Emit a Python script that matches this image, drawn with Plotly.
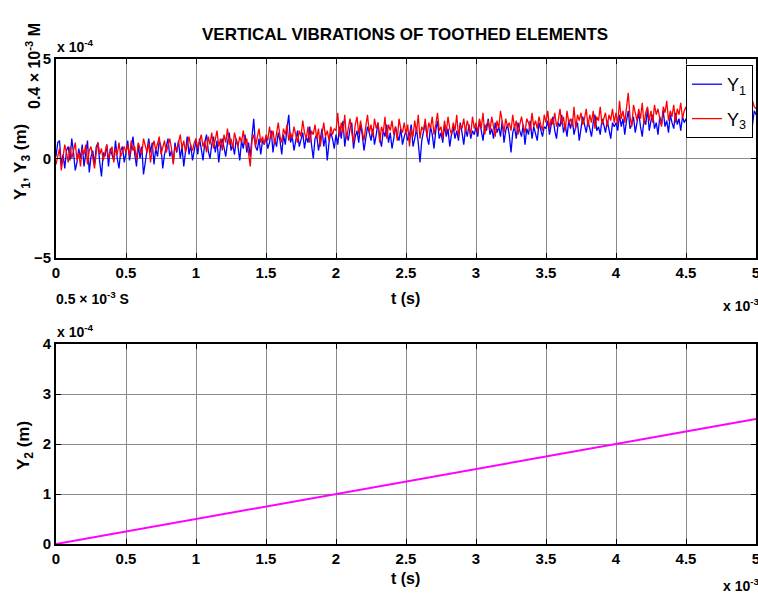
import numpy as np
import plotly.graph_objects as go

# values in units of 1e-4 m, sampled evenly over 0..5 ms (axis shows x 10^-3 s)
y1 = [
    0.1, 0.8, 0.9, -0.3, 0.2, -0.5, 0.4, 0.6, -0.1, 1.0, 0.3, -0.6, -0.2, 0.5, 0.0, 0.7, -0.4, 0.2, 0.9, -0.7,
    0.1, 0.4, -0.3, 0.6, 0.8, -0.2, -0.9, 0.3, 0.1, 0.7, -0.4, 0.5, 0.2, -0.1, 0.9, 0.0, -0.5, 0.4, 0.6, -0.2,
    0.3, 0.9, -0.1, 0.5, 1.1, 0.2, -0.4, 0.7, 0.0, 0.6, -0.8, -0.2, 0.4, 1.0, 0.3, 0.8, -0.3, 0.5, 0.1, 0.9,
    0.6, -0.5, 0.2, 0.7, 1.0, 0.1, 0.4, -0.2, 0.8, 0.3, 0.9, 0.0, 0.6, -0.4, 0.5, 1.1, 0.2, 0.7, -0.1, 0.4,
    0.9, 0.2, 1.0, 0.5, -0.1, 0.8, 1.2, 0.4, 0.0, 0.7, 1.1, 0.3, 0.9, -0.2, 0.6, 1.0, 0.5, 0.1, 0.8, 1.3,
    0.4, 0.7, 0.2, 1.0, 0.6, -0.1, 0.9, 0.5, 1.2, 0.3, 0.8, 0.1, 1.1, 2.0, 0.6, 0.4, 1.0, 0.2, 0.9, 0.7,
    1.1, 0.5, 0.8, 1.4, 0.3, 1.0, 0.6, 1.3, 0.9, 0.2, 1.2, 0.7, 1.5, 2.2, 0.8, 1.1, 0.4, 1.0, 1.4, 0.6,
    0.9, 1.3, 0.5, 1.1, 0.8, 1.6, 0.7, 0.0, 1.0, 1.2, 0.4, 0.9, 1.5, 0.6, 1.1, -0.1, 0.8, 1.3, 1.0, 0.5,
    1.2, 0.7, 1.6, 1.0, 1.9, 0.6, 1.3, 0.9, 1.5, 1.8, 0.5, 1.1, 1.4, 0.8, 1.7, 1.2, 0.4, 1.0, 1.6, 1.3,
    0.9, 1.5, 0.7, 1.2, 1.8, 1.0, 0.6, 1.4, 1.1, 1.7, 0.8, 1.3, 0.5, 1.0, 1.6, 1.2, 0.9, 1.5, 0.7, 1.1,
    1.4, 0.9, 1.2, 1.7, 0.6, 1.0, 1.5, 0.8, -0.2, 0.9, 1.3, 1.8, 1.1, 0.7, 1.6, 1.2, 0.5, 1.4, 1.9, 1.0,
    1.3, 0.8, 1.7, 1.1, 1.5, 0.6, 1.2, 1.6, 1.0, 1.4, 0.9, 1.8, 1.3, 0.7, 1.5, 1.1, 1.7, 1.0, 1.4, 1.2,
    1.6, 1.1, 1.9, 1.3, 0.9, 1.7, 1.4, 2.0, 1.2, 1.5, 1.0, 1.8, 1.3, 1.6, 1.1, 1.9, 0.8, 1.4, 1.7, 1.2,
    0.3, 1.3, 1.6, 1.0, 1.8, 1.4, 1.1, 1.7, 0.7, 1.5, 1.2, 1.9, 1.0, 1.6, 1.3, 0.9, 1.8, 1.4, 1.1, 1.6,
    1.5, 1.9, 1.2, 1.7, 2.1, 1.4, 1.0, 1.8, 1.6, 2.2, 1.3, 1.7, 1.1, 1.9, 1.5, 2.0, 1.2, 1.6, 1.8, 0.9,
    1.4, 2.1, 1.7, 1.3, 1.9, 1.5, 1.1, 1.8, 2.2, 1.4, 1.6, 1.2, 2.0, 1.7, 1.3, 1.9, 1.5, 1.0, 1.8, 1.6,
    1.8, 1.4, 2.2, 1.6, 2.0, 1.2, 1.9, 2.4, 1.5, 1.7, 2.1, 1.3, 1.8, 2.3, 1.6, 1.1, 2.0, 1.7, 2.5, 1.4,
    1.9, 2.2, 1.5, 1.8, 1.2, 2.1, 1.7, 2.4, 1.6, 1.9, 1.3, 2.2, 1.8, 1.5, 2.3, 1.7, 2.0, 1.4, 2.1, 1.8,
    2.0, 1.6, 2.4, 1.9, 2.7, 1.5, 2.2, 1.8, 2.5, 1.3, 2.1, 2.6, 1.7, 2.3, 1.9, 2.8, 1.6, 2.2, 2.0, 2.5,
    1.8, 2.4, 1.5, 2.1, 2.7, 1.9, 2.3, 1.7, 2.6, 2.0, 2.4, 1.8, 2.2, 2.5, 1.9, 2.6, 2.1, 2.3, 1.7, 2.4,
    2.2,
]

y3 = [
    -0.3, 0.2, 0.5, -0.6, 0.1, 0.7, 0.3, -0.2, 0.6, 0.0, 0.4, 0.8, -0.1, 0.3, -0.4, 0.5, 0.2, 0.7, -0.3, 0.4,
    0.6, 0.1, -0.5, 0.3, 0.8, 0.2, 0.5, -0.1, 0.4, 0.7, 0.0, 0.3, 0.6, -0.2, 0.5, 0.2, 0.8, 0.1, 0.4, 0.6,
    0.3, 0.7, 0.1, 0.9, 0.4, 0.6, -0.1, 0.8, 0.5, 0.2, 1.0, 0.6, 0.3, 0.8, -0.2, 0.5, 0.9, 0.4, 0.7, 1.1,
    0.2, 0.6, 0.9, 0.3, 0.7, 1.0, 0.5, -0.3, 0.6, 0.4, 0.8, 1.2, 0.5, 0.9, 0.3, 0.7, 1.1, 0.6, 0.4, 0.8,
    1.0, 0.5, 0.8, 1.2, 0.6, 0.9, 0.3, 1.1, 0.7, 1.3, 0.5, 0.9, 1.4, 0.6, 1.0, 0.4, 1.2, 0.8, 1.5, 0.7,
    1.0, 0.5, 1.3, 0.9, 0.6, 1.1, 0.8, 1.4, 0.7, 1.0, 0.2, -0.4, 0.9, 1.2, 0.6, 1.0, 1.5, 0.8, 1.1, 0.7,
    1.2, 0.9, 1.6, 1.0, 1.4, 0.7, 1.3, 1.8, 1.1, 0.8, 1.5, 1.2, 1.7, 0.9, 1.3, 1.0, 1.6, 1.2, 0.8, 1.4,
    1.1, 1.9, 1.3, 1.0, 1.6, 0.8, 1.4, 1.2, 1.7, 1.0, 1.5, 0.6, 1.3, 1.8, 1.1, 1.4, 0.9, 1.6, 1.2, 1.5,
    1.4, 2.3, 1.1, 1.8, 1.3, 2.2, 1.0, 1.6, 2.0, 1.3, 0.8, 1.7, 2.1, 1.2, 1.9, 1.4, 0.9, 1.6, 2.2, 1.3,
    1.7, 1.1, 2.0, 1.5, 1.8, 0.8, 1.6, 1.3, 2.1, 1.0, 1.7, 1.4, 1.9, 1.2, 1.6, 0.9, 2.0, 1.5, 1.3, 1.8,
    1.2, 1.7, 0.6, 1.5, 1.1, 1.9, 1.3, 2.2, 1.0, 1.6, 1.4, 2.0, 1.1, 1.8, 1.5, 2.1, 1.2, 1.7, 2.3, 1.4,
    1.6, 1.0, 1.9, 1.3, 2.1, 1.5, 1.2, 1.8, 1.4, 2.2, 1.1, 1.7, 1.5, 2.0, 1.3, 1.9, 1.6, 1.2, 2.1, 1.5,
    1.8, 1.3, 2.0, 1.5, 2.3, 1.2, 1.7, 1.9, 1.4, 2.1, 1.6, 1.1, 1.9, 1.5, 2.4, 1.7, 1.3, 2.0, 1.6, 1.8,
    1.4, 2.2, 1.5, 1.9, 1.2, 1.7, 2.1, 1.6, 1.3, 2.0, 1.8, 1.4, 2.3, 1.6, 1.9, 1.5, 2.1, 1.7, 1.4, 2.2,
    1.8, 2.4, 1.5, 2.0, 1.7, 2.3, 1.6, 1.9, 2.5, 1.7, 2.1, 1.4, 2.4, 1.8, 2.0, 1.6, 2.6, 1.5, 2.2, 1.9,
    2.3, 1.7, 2.0, 2.5, 1.6, 2.2, 1.8, 2.4, 1.5, 2.1, 1.9, 2.6, 1.7, 2.0, 2.3, 1.6, 2.2, 1.9, 2.5, 1.8,
    2.3, 1.7, 2.9, 2.0, 2.4, 1.8, 2.6, 3.3, 2.1, 1.6, 2.7, 2.2, 1.9, 2.5, 2.0, 2.8, 1.7, 2.3, 2.6, 1.9,
    2.4, 1.8, 2.7, 2.2, 2.5, 2.0, 1.6, 2.6, 2.3, 2.9, 1.9, 2.4, 2.1, 2.7, 1.8, 2.5, 2.2, 2.8, 2.0, 2.4,
    2.6, 2.1, 2.9, 2.3, 3.1, 2.0, 2.6, 3.5, 2.2, 2.8, 2.4, 1.9, 2.7, 2.3, 3.0, 2.1, 2.5, 2.9, 2.2, 2.6,
    2.4, 3.0, 2.0, 2.7, 2.3, 2.8, 2.1, 2.5, 3.1, 2.2, 2.6, 2.9, 2.4, 2.7, 2.1, 2.8, 2.5, 2.3, 2.9, 2.6,
    2.5,
]

t1 = np.linspace(0, 5, len(y1))
t3 = np.linspace(0, 5, len(y3))

t2 = [0, 5]
y2 = [0, 2.5]

x_ticks = [0, 0.5, 1, 1.5, 2, 2.5, 3, 3.5, 4, 4.5, 5]
x_ticklabels = ["0", "0.5", "1", "1.5", "2", "2.5", "3", "3.5", "4", "4.5", "5"]
y_top_ticks = [-5, 0, 5]
y_bot_ticks = [0, 1, 2, 3, 4]

W, H = 758, 597
L, R, T, B = 56, 2, 59, 53
PW, PH = W - L - R, H - T - B

def px(x):
    return (x - L) / PW

def py(y):
    return (H - B - y) / PH

top_dom = [py(258), 1.0]
bot_dom = [0.0, py(344)]

FONT = "Liberation Sans, Arial, sans-serif"

fig = go.Figure()
fig.add_trace(go.Scatter(x=t1, y=y1, mode="lines", name="Y<sub>1</sub>", legendgroup="a",
                         line=dict(color="#0000ff", width=1.3), xaxis="x", yaxis="y"))
fig.add_trace(go.Scatter(x=t3, y=y3, mode="lines", name="Y<sub>3</sub>", legendgroup="b",
                         line=dict(color="#ff0000", width=1.3), xaxis="x", yaxis="y"))
fig.add_trace(go.Scatter(x=t2, y=y2, mode="lines", showlegend=False,
                         line=dict(color="#ff00ff", width=2), xaxis="x2", yaxis="y2"))

axis_common = dict(
    showline=True, linecolor="black", linewidth=2, mirror="allticks",
    ticks="inside", ticklen=5, tickcolor="black", tickwidth=1,
    showgrid=True, gridcolor="#8a8a8a", gridwidth=1, zeroline=False,
    ticklabeloverflow="allow", automargin=False,
    tickfont=dict(family=FONT, size=15, color="black", weight="bold"),
)

fig.update_layout(
    width=W, height=H,
    margin=dict(l=L, r=R, t=T, b=B, autoexpand=False),
    paper_bgcolor="white", plot_bgcolor="white",
    font=dict(family=FONT, color="black"),
    xaxis=dict(domain=[0, 1], range=[0, 5], tickvals=x_ticks, ticktext=x_ticklabels,
               anchor="y", **axis_common),
    yaxis=dict(domain=top_dom, range=[-5, 5], tickvals=y_top_ticks, anchor="x", **axis_common),
    xaxis2=dict(domain=[0, 1], range=[0, 5], tickvals=x_ticks, ticktext=x_ticklabels,
                anchor="y2", **axis_common),
    yaxis2=dict(domain=bot_dom, range=[0, 4], tickvals=y_bot_ticks, anchor="x2", **axis_common),
    legend=dict(x=px(753), y=py(65), xanchor="right", yanchor="top",
                bgcolor="white", bordercolor="black", borderwidth=1,
                font=dict(family=FONT, size=18, color="black"),
                itemwidth=30, traceorder="grouped", tracegroupgap=8),
    showlegend=True,
)

def ann(text, x, y, size=15, xanchor="center", yanchor="middle", angle=0, bold=True):
    fig.add_annotation(text=text, x=px(x), y=py(y), xref="paper", yref="paper",
                       showarrow=False, xanchor=xanchor, yanchor=yanchor, textangle=angle,
                       font=dict(family=FONT, size=size, color="black",
                                 weight="bold" if bold else "normal"))

ann("VERTICAL VIBRATIONS OF TOOTHED ELEMENTS", 405, 35, size=17)
ann("x 10<sup>-4</sup>", 55, 46, size=14, xanchor="left")
ann("x 10<sup>-4</sup>", 55, 331, size=14, xanchor="left")
ann("x 10<sup>-3</sup>", 721, 305, size=14, xanchor="left")
ann("x 10<sup>-3</sup>", 721, 585, size=14, xanchor="left")
ann("t (s)", 405, 298, size=16)
ann("t (s)", 405, 578, size=16)
ann("0.5 × 10<sup>-3</sup> S", 54, 298, size=14, xanchor="left")
ann("Y<sub>1</sub>, Y<sub>3</sub> (m)", 22, 162, size=17, angle=-90)
ann("0.4 × 10<sup>-3</sup> M", 33, 66, size=16, angle=-90)
ann("Y<sub>2</sub> (m)", 25, 446, size=17, angle=-90)

fig.write_html("out.html")
